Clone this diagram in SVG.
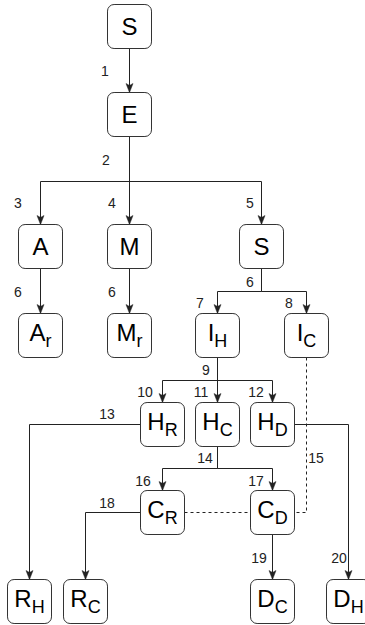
<svg xmlns="http://www.w3.org/2000/svg" width="365" height="625" viewBox="0 0 365 625">
  <style>
    .box { fill: #fff; stroke: #333; stroke-width: 1; }
    .t { font-family: "Liberation Sans", Arial, sans-serif; font-size: 24px; fill: #000; text-anchor: middle; }
    .s { font-size: 18px; }
    .e { fill: none; stroke: #222; stroke-width: 1; }
    .d { fill: none; stroke: #222; stroke-width: 1; stroke-dasharray: 3 3; }
    .lbl { font-family: "Liberation Sans", Arial, sans-serif; font-size: 14px; fill: #222; text-anchor: middle; }
  </style>
  <defs>
    <marker id="arr" markerUnits="userSpaceOnUse" markerWidth="12" markerHeight="12" refX="10" refY="5" orient="auto" viewBox="0 0 12 10">
      <path d="M10,5 L1,1.5 L3,5 L1,8.5 Z" fill="#222" stroke="#222" stroke-width="0.5"/>
    </marker>
  </defs>

  <!-- connectors -->
  <g id="edges">
    <path class="e" d="M129.5,48.5 V92.5" marker-end="url(#arr)"/>
    <path class="e" d="M129.5,136.5 V181.5 H40.5 V224.5" marker-end="url(#arr)"/>
    <path class="e" d="M129.5,136.5 V224.5" marker-end="url(#arr)"/>
    <path class="e" d="M129.5,136.5 V181.5 H261.5 V224.5" marker-end="url(#arr)"/>
    <path class="e" d="M40.5,268.5 V313.5" marker-end="url(#arr)"/>
    <path class="e" d="M129.5,268.5 V313.5" marker-end="url(#arr)"/>
    <path class="e" d="M261.5,268.5 V291.5 H217.5 V313.5" marker-end="url(#arr)"/>
    <path class="e" d="M261.5,268.5 V291.5 H306.5 V313.5" marker-end="url(#arr)"/>
    <path class="e" d="M217.5,357.5 V380.5 H162.5 V402.5" marker-end="url(#arr)"/>
    <path class="e" d="M217.5,357.5 V402.5" marker-end="url(#arr)"/>
    <path class="e" d="M217.5,357.5 V380.5 H272.5 V402.5" marker-end="url(#arr)"/>
    <path class="e" d="M140.5,424.5 H29.5 V579.5" marker-end="url(#arr)"/>
    <path class="e" d="M294.5,424.5 H348.5 V579.5" marker-end="url(#arr)"/>
    <path class="e" d="M217.5,446.5 V468.5 H162.5 V490.5" marker-end="url(#arr)"/>
    <path class="e" d="M217.5,446.5 V468.5 H272.5 V490.5" marker-end="url(#arr)"/>
    <path class="e" d="M140.5,512.5 H85.5 V579.5" marker-end="url(#arr)"/>
    <path class="e" d="M272.5,534.5 V579.5" marker-end="url(#arr)"/>
    <path class="d" d="M306.5,357.5 V512.5 H294.5"/>
    <path class="d" d="M184.5,512.5 H250.5"/>
  </g>

  <!-- connector labels -->
  <g id="labels">
    <text class="lbl" x="105" y="76">1</text>
    <text class="lbl" x="106" y="165">2</text>
    <text class="lbl" x="18" y="208">3</text>
    <text class="lbl" x="112" y="208">4</text>
    <text class="lbl" x="250" y="208">5</text>
    <text class="lbl" x="18" y="297">6</text>
    <text class="lbl" x="112" y="297">6</text>
    <text class="lbl" x="250" y="287">6</text>
    <text class="lbl" x="200" y="308">7</text>
    <text class="lbl" x="289" y="308">8</text>
    <text class="lbl" x="206" y="375">9</text>
    <text class="lbl" x="145" y="397">10</text>
    <text class="lbl" x="201" y="397">11</text>
    <text class="lbl" x="256" y="397">12</text>
    <text class="lbl" x="107" y="419">13</text>
    <text class="lbl" x="205" y="463">14</text>
    <text class="lbl" x="316" y="463">15</text>
    <text class="lbl" x="143" y="486">16</text>
    <text class="lbl" x="256" y="486">17</text>
    <text class="lbl" x="107" y="508">18</text>
    <text class="lbl" x="259" y="563">19</text>
    <text class="lbl" x="339" y="563">20</text>
  </g>

  <!-- nodes -->
  <g id="node-S"><rect class="box" x="107.5" y="4.5" width="44" height="44" rx="6.6"/><text class="t" x="129.5" y="35">S</text></g>
  <g id="node-E"><rect class="box" x="107.5" y="92.5" width="44" height="44" rx="6.6"/><text class="t" x="129.5" y="123">E</text></g>
  <g id="node-A"><rect class="box" x="18.5" y="224.5" width="44" height="44" rx="6.6"/><text class="t" x="40.5" y="255">A</text></g>
  <g id="node-M"><rect class="box" x="107.5" y="224.5" width="44" height="44" rx="6.6"/><text class="t" x="129.5" y="255">M</text></g>
  <g id="node-S2"><rect class="box" x="239.5" y="224.5" width="44" height="44" rx="6.6"/><text class="t" x="261.5" y="255">S</text></g>
  <g id="node-Ar"><rect class="box" x="18.5" y="313.5" width="44" height="44" rx="6.6"/><text class="t" x="40.5" y="341">A<tspan class="s" dy="5.5">r</tspan></text></g>
  <g id="node-Mr"><rect class="box" x="107.5" y="313.5" width="44" height="44" rx="6.6"/><text class="t" x="129.5" y="341">M<tspan class="s" dy="5.5">r</tspan></text></g>
  <g id="node-IH"><rect class="box" x="195.5" y="313.5" width="44" height="44" rx="6.6"/><text class="t" x="217.5" y="341">I<tspan class="s" dy="5.5">H</tspan></text></g>
  <g id="node-IC"><rect class="box" x="284.5" y="313.5" width="44" height="44" rx="6.6"/><text class="t" x="306.5" y="341">I<tspan class="s" dy="5.5">C</tspan></text></g>
  <g id="node-HR"><rect class="box" x="140.5" y="402.5" width="44" height="44" rx="6.6"/><text class="t" x="162.5" y="430">H<tspan class="s" dy="5.5">R</tspan></text></g>
  <g id="node-HC"><rect class="box" x="195.5" y="402.5" width="44" height="44" rx="6.6"/><text class="t" x="217.5" y="430">H<tspan class="s" dy="5.5">C</tspan></text></g>
  <g id="node-HD"><rect class="box" x="250.5" y="402.5" width="44" height="44" rx="6.6"/><text class="t" x="272.5" y="430">H<tspan class="s" dy="5.5">D</tspan></text></g>
  <g id="node-CR"><rect class="box" x="140.5" y="490.5" width="44" height="44" rx="6.6"/><text class="t" x="162.5" y="518">C<tspan class="s" dy="5.5">R</tspan></text></g>
  <g id="node-CD"><rect class="box" x="250.5" y="490.5" width="44" height="44" rx="6.6"/><text class="t" x="272.5" y="518">C<tspan class="s" dy="5.5">D</tspan></text></g>
  <g id="node-RH"><rect class="box" x="7.5" y="579.5" width="44" height="44" rx="6.6"/><text class="t" x="29.5" y="607">R<tspan class="s" dy="5.5">H</tspan></text></g>
  <g id="node-RC"><rect class="box" x="63.5" y="579.5" width="44" height="44" rx="6.6"/><text class="t" x="85.5" y="607">R<tspan class="s" dy="5.5">C</tspan></text></g>
  <g id="node-DC"><rect class="box" x="250.5" y="579.5" width="44" height="44" rx="6.6"/><text class="t" x="272.5" y="607">D<tspan class="s" dy="5.5">C</tspan></text></g>
  <g id="node-DH"><rect class="box" x="326.5" y="579.5" width="44" height="44" rx="6.6"/><text class="t" x="348.5" y="607">D<tspan class="s" dy="5.5">H</tspan></text></g>
</svg>
